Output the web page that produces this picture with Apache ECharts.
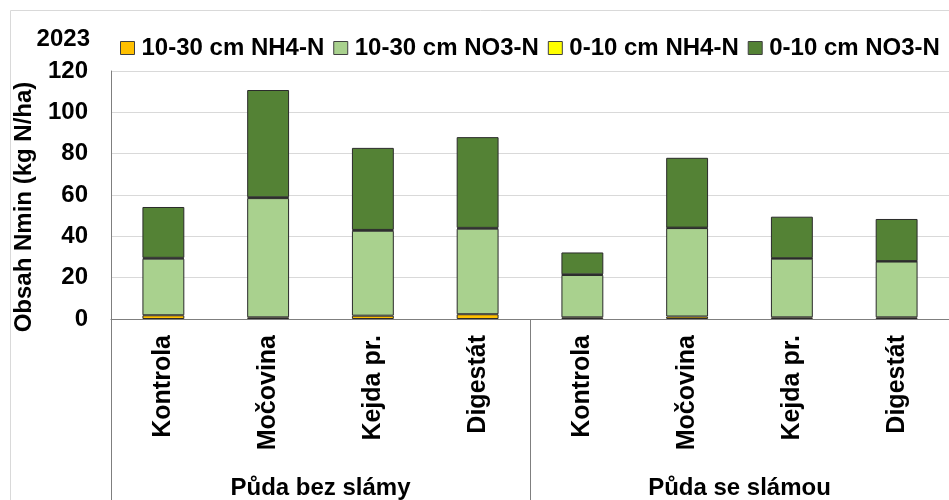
<!DOCTYPE html>
<html>
<head>
<meta charset="utf-8">
<style>
html,body{margin:0;padding:0;background:#fff;}
#c{width:949px;height:500px;}
</style>
<script src="https://cdn.jsdelivr.net/npm/echarts@6/dist/echarts.min.js"></script>
</head>
<body>
<div id="c"></div>
<script>
var categories = ['Kontrola', 'Močovina', 'Kejda pr.', 'Digestát', 'Kontrola', 'Močovina', 'Kejda pr.', 'Digestát'];
var groups = ['Půda bez slámy', 'Půda se slámou'];
var nh4_1030 = [1.8, 0.8, 1.6, 2.3, 0.8, 1.2, 0.8, 0.8];
var no3_1030 = [27.4, 57.7, 41.1, 41.4, 20.5, 42.8, 28.4, 27.0];
var nh4_010 = [0.4, 0.4, 0.4, 0.4, 0.3, 0.2, 0.2, 0.2];
var no3_010 = [24.6, 51.9, 39.7, 43.9, 10.6, 33.8, 20.1, 20.4];
var seriesNames = ['10-30 cm NH4-N', '10-30 cm NO3-N', '0-10 cm NH4-N', '0-10 cm NO3-N'];
var colors = ['#FFC000', '#A9D18E', '#FFFF00', '#548235'];
var yTicks = [0, 20, 40, 60, 80, 100, 120];
var yearLabel = '2023';
var yTitle = 'Obsah Nmin (kg N/ha)';

var FONT = "'Liberation Sans', Arial, sans-serif";
var chart = echarts.init(document.getElementById('c'), null, {renderer: 'canvas'});
var dataSets = [nh4_1030, no3_1030, nh4_010, no3_010];

var series = dataSets.map(function (d, i) {
  return {
    name: seriesNames[i],
    type: 'bar',
    stack: 'total',
    barWidth: '40%',
    data: d,
    itemStyle: {color: colors[i], borderColor: '#2b2b2b', borderWidth: 1},
    emphasis: {disabled: true},
    animation: false
  };
});

var option = {
  animation: false,
  legend: {
    left: 120, top: 36, width: 940, padding: 0,
    orient: 'horizontal',
    itemWidth: 14, itemHeight: 13, itemGap: 9,
    icon: 'rect',
    selectedMode: false,
    data: seriesNames.map(function (n) { return {name: n, itemStyle: {borderColor: '#404040', borderWidth: 1}}; }),
    textStyle: {fontFamily: FONT, fontWeight: 'bold', fontSize: 24, color: '#000', lineHeight: 24, padding: [0, 0, 0, 2]}
  },
  grid: {left: 111, top: 71, width: 840, bottom: 181, containLabel: false},
  xAxis: {
    type: 'category',
    data: categories,
    axisTick: {show: false},
    axisLine: {lineStyle: {color: '#7f7f7f', width: 1}},
    axisLabel: {rotate: 90, margin: 16, fontFamily: FONT, fontWeight: 'bold', fontSize: 25, color: '#000', interval: 0}
  },
  yAxis: {
    type: 'value', min: yTicks[0], max: yTicks[yTicks.length - 1], interval: yTicks[1] - yTicks[0],
    axisLine: {show: true, lineStyle: {color: '#7f7f7f', width: 1}},
    axisTick: {show: false},
    splitLine: {lineStyle: {color: '#d9d9d9', width: 1}},
    axisLabel: {margin: 23, fontFamily: FONT, fontWeight: 'bold', fontSize: 24, color: '#000'}
  },
  series: series
};
chart.setOption(option);

function px(i) { return chart.convertToPixel({xAxisIndex: 0}, i); }
var band = px(1) - px(0);
var left = px(0) - band / 2;
var mid = (px(3) + px(4)) / 2;
var right = px(7) + band / 2;
var y0 = chart.convertToPixel({yAxisIndex: 0}, 0);
var lineStyle = {stroke: '#7f7f7f', lineWidth: 1};

chart.setOption({
  graphic: [
    {type: 'rect', shape: {x: 10.5, y: 10.5, width: 1000, height: 1000}, style: {fill: 'none', stroke: '#d9d9d9', lineWidth: 1}, silent: true, z: -1},
    {type: 'line', shape: {x1: Math.round(left) + 0.5, y1: y0, x2: Math.round(left) + 0.5, y2: 500}, style: lineStyle, silent: true},
    {type: 'line', shape: {x1: Math.round(mid) + 0.5, y1: y0, x2: Math.round(mid) + 0.5, y2: 500}, style: lineStyle, silent: true},
    {type: 'line', shape: {x1: Math.round(right) + 0.5, y1: y0, x2: Math.round(right) + 0.5, y2: 500}, style: lineStyle, silent: true},
    {type: 'text', x: (left + mid) / 2, y: 488, style: {text: groups[0], align: 'center', verticalAlign: 'middle', font: 'bold 24px ' + FONT, fill: '#000'}},
    {type: 'text', x: (mid + right) / 2, y: 488, style: {text: groups[1], align: 'center', verticalAlign: 'middle', font: 'bold 24px ' + FONT, fill: '#000'}},
    {type: 'text', x: 90, y: 39, style: {text: yearLabel, align: 'right', verticalAlign: 'middle', font: 'bold 24px ' + FONT, fill: '#000'}},
    {type: 'text', x: 24, y: 207, rotation: Math.PI / 2, style: {text: yTitle, align: 'center', verticalAlign: 'middle', font: 'bold 24px ' + FONT, fill: '#000'}}
  ]
});
</script>
</body>
</html>
